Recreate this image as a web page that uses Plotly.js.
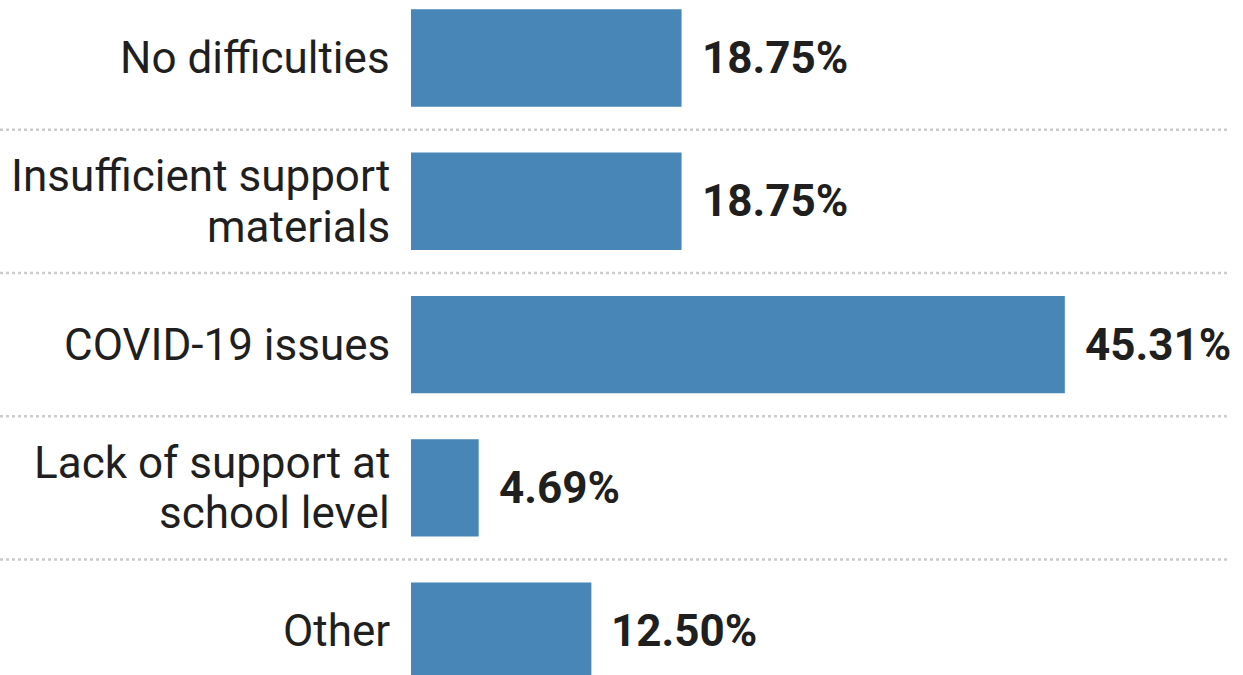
<!DOCTYPE html>
<html>
<head>
<meta charset="utf-8">
<script src="https://cdn.plot.ly/plotly-3.0.1.min.js"></script>
<style>html,body{margin:0;padding:0;background:#fff;overflow:hidden}#chart{width:1243px;height:675px}</style>
</head>
<body>
<div id="chart"></div>
<script>
const categories = ["No difficulties", "Insufficient support<br>materials", "COVID-19 issues", "Lack of support at<br>school level", "Other"];
const values = [18.75, 18.75, 45.31, 4.69, 12.50];
const valueLabels = ["18.75%", "18.75%", "45.31%", "4.69%", "12.50%"];
const separators = [0.5, 1.5, 2.5, 3.5];

const W = 1243, L = 411, R = 13;
const plotW = W - L - R;
const FS = 44, LINE = 50.5;

const trace = {
  type: 'bar',
  orientation: 'h',
  x: values,
  y: categories,
  width: 0.68,
  marker: {color: '#4886b7'},
  hoverinfo: 'none'
};

const valueAnnotations = values.map((v, i) => ({
  x: v, y: categories[i], xref: 'x', yref: 'y',
  text: '<b>' + valueLabels[i] + '</b>',
  showarrow: false, xanchor: 'left', yanchor: 'middle', xshift: 18,
  font: {family: 'Roboto', size: FS, color: '#1f1f1f'}
}));

const labelAnnotations = [];
categories.forEach(c => {
  const lines = c.split('<br>');
  lines.forEach((ln, k) => {
    labelAnnotations.push({
      x: 0, y: c, xref: 'paper', yref: 'y',
      text: ln, showarrow: false, xanchor: 'right', yanchor: 'middle',
      xshift: -19, yshift: -(k - (lines.length - 1) / 2) * LINE,
      font: {family: 'Roboto', size: FS, color: '#1f1f1f'}
    });
  });
});

const shapes = separators.map(s => ({
  type: 'line', xref: 'paper', yref: 'y',
  x0: -L / plotW, x1: 1, y0: s, y1: s,
  line: {color: '#cccccc', width: 2.5, dash: 'dot'},
  layer: 'below'
}));

const layout = {
  width: 1243, height: 675,
  margin: {l: L, r: R, t: 0, b: 0, pad: 0},
  paper_bgcolor: '#fff', plot_bgcolor: '#fff',
  showlegend: false,
  font: {family: 'Roboto', color: '#1f1f1f'},
  xaxis: {range: [0, plotW / 14.43], visible: false, fixedrange: true},
  yaxis: {
    type: 'category', categoryorder: 'array', categoryarray: categories,
    range: [4.306, -0.405], automargin: false,
    showgrid: false, zeroline: false, showline: false,
    showticklabels: false, ticks: ''
  },
  annotations: valueAnnotations.concat(labelAnnotations),
  shapes: shapes
};

Plotly.newPlot('chart', [trace], layout, {staticPlot: true, displayModeBar: false});
</script>
</body>
</html>
